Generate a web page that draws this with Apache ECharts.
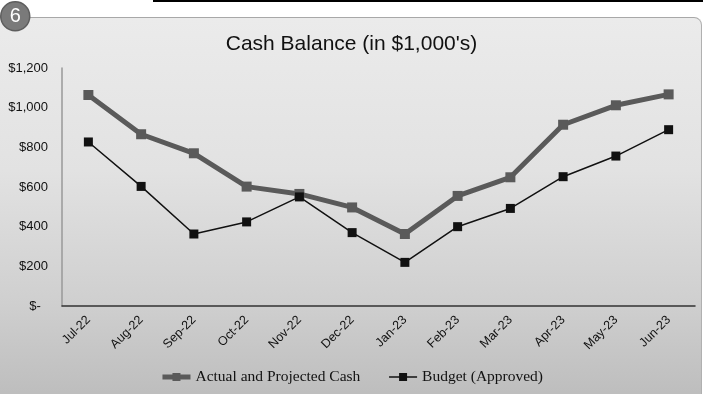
<!DOCTYPE html>
<html>
<head>
<meta charset="utf-8">
<script src="https://cdn.jsdelivr.net/npm/echarts@6/dist/echarts.min.js"></script>
<style>
html,body{margin:0;padding:0;background:#fff;}
#wrap{position:relative;width:703px;height:394px;overflow:hidden;background:#fff;}
#topline{position:absolute;left:153px;top:0;width:550px;height:2px;background:#000;}
#card{position:absolute;left:0;top:17px;width:701px;height:380px;border-top:1.5px solid #a8a8a8;border-right:1px solid #b0b0b0;border-top-right-radius:8px;background:linear-gradient(to bottom,#ebebeb 0%,#e2e2e2 40%,#cfcfcf 75%,#bdbdbd 100%);}
#chart{position:absolute;left:0;top:0;width:703px;height:394px;}
</style>
</head>
<body>
<div id="wrap">
<div id="topline"></div>
<div id="card"></div>
<div id="chart"></div>
</div>
<script>
var categories = ['Jul-22','Aug-22','Sep-22','Oct-22','Nov-22','Dec-22','Jan-23','Feb-23','Mar-23','Apr-23','May-23','Jun-23'];
var actualCash = [1064, 866, 770, 602, 565, 497, 363, 555, 649, 914, 1012, 1067];
var budgetApproved = [827, 603, 363, 424, 550, 370, 220, 400, 492, 652, 756, 889];
var yTicks = [0, 200, 400, 600, 800, 1000, 1200];

var chart = echarts.init(document.getElementById('chart'), null, {renderer:'canvas'});
chart.setOption({
  backgroundColor: 'transparent',
  animation: false,
  title: {
    text: "Cash Balance (in $1,000's)",
    left: 'center', top: 29,
    textStyle: {fontFamily: 'Liberation Sans, Arial', fontSize: 21, fontWeight: 'normal', color: '#111'}
  },
  graphic: [{
    type: 'group', left: 0, top: 1,
    children: [
      {type: 'circle', shape: {cx: 14, cy: 15, r: 14.5}, style: {fill: '#7a7a7a', stroke: '#5e5e5e', lineWidth: 1.5}},
      {type: 'text', style: {text: '6', x: 14, y: 15, textAlign: 'center', textVerticalAlign: 'middle', fill: '#fff', font: '20px "Liberation Sans", Arial'}}
    ]
  }],
  legend: {
    bottom: 4, left: 'center', itemGap: 28, itemWidth: 28, itemHeight: 10,
    textStyle: {fontFamily: 'Liberation Serif, Times New Roman', fontSize: 15.5, color: '#111'},
    data: [
      {name: 'Actual and Projected Cash', lineStyle: {width: 5, color: '#5a5a5a'}},
      {name: 'Budget (Approved)', lineStyle: {width: 1.5, color: '#111'}}
    ]
  },
  grid: {left: 62, right: 8, top: 68, bottom: 88},
  xAxis: {
    type: 'category', data: categories, boundaryGap: true,
    axisLine: {lineStyle: {color: '#333', width: 1.5}},
    axisTick: {show: false},
    axisLabel: {rotate: 45, margin: 12, interval: 0, fontFamily: 'Liberation Sans, Arial', fontSize: 12.5, color: '#111'}
  },
  yAxis: {
    type: 'value', min: 0, max: 1200, interval: 200,
    axisLine: {show: true, lineStyle: {color: '#999', width: 1.5}},
    axisTick: {show: false},
    splitLine: {show: false},
    axisLabel: {
      margin: 14, fontFamily: 'Liberation Sans, Arial', fontSize: 13, color: '#111',
      formatter: function (v) { return v === 0 ? '$-  ' : '$' + v.toLocaleString('en-US'); }
    }
  },
  series: [
    {
      name: 'Actual and Projected Cash', type: 'line', data: actualCash,
      symbol: 'rect', symbolSize: 10, showSymbol: true,
      lineStyle: {color: '#5a5a5a', width: 5},
      itemStyle: {color: '#5a5a5a'}
    },
    {
      name: 'Budget (Approved)', type: 'line', data: budgetApproved,
      symbol: 'rect', symbolSize: 9, showSymbol: true,
      lineStyle: {color: '#111', width: 1.5},
      itemStyle: {color: '#111'}
    }
  ]
});
</script>
</body>
</html>
